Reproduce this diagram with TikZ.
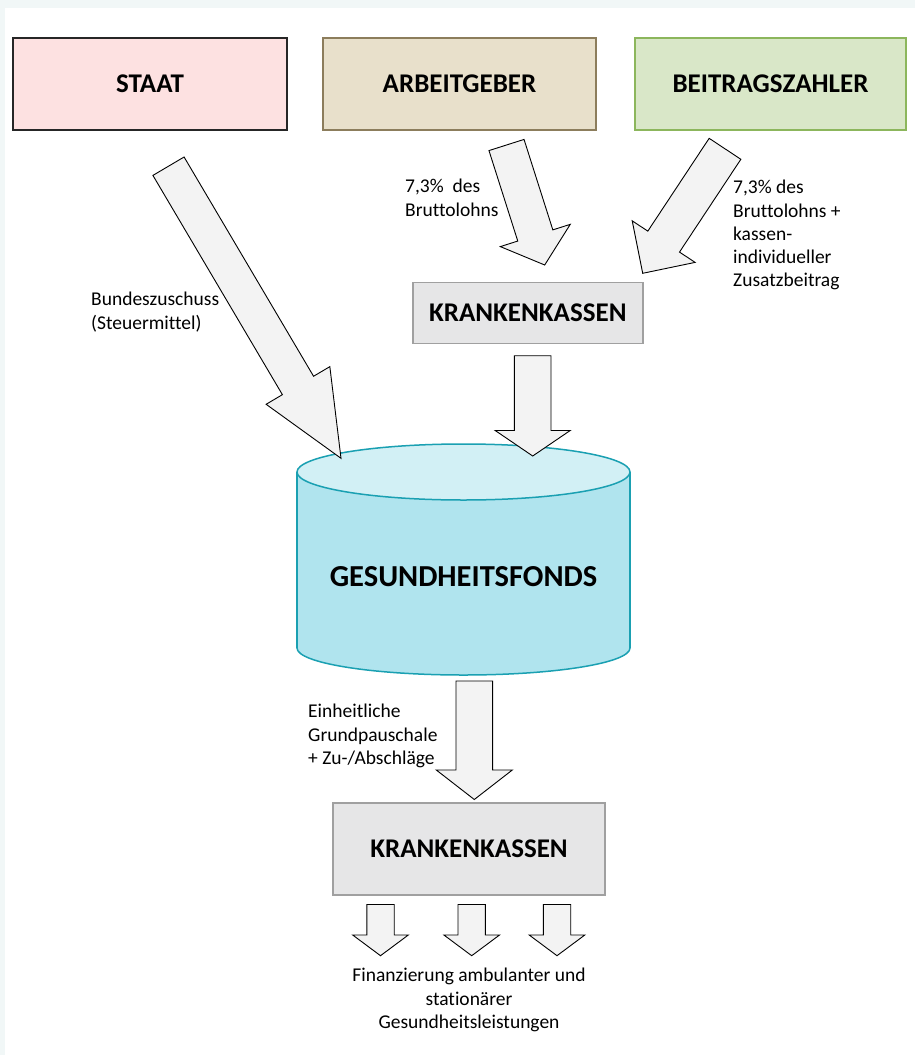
\documentclass[tikz,border=0pt]{standalone}
\usepackage{fontspec}
\setmainfont{Carlito}[Ligatures=NoCommon]
\usetikzlibrary{calc}

\definecolor{bandcol}{HTML}{F1F7F7}
\definecolor{staatfill}{HTML}{FDE1E1}
\definecolor{staatline}{HTML}{262626}
\definecolor{agfill}{HTML}{E8E0CB}
\definecolor{agline}{HTML}{8C7D5C}
\definecolor{bzfill}{HTML}{D9E7C8}
\definecolor{bzline}{HTML}{8CB65C}
\definecolor{kkfill}{HTML}{E6E6E7}
\definecolor{kkline}{HTML}{A0A0A0}
\definecolor{arrowfill}{HTML}{F3F3F3}
\definecolor{fondsbody}{HTML}{B0E4EE}
\definecolor{fondstop}{HTML}{D2F0F5}
\definecolor{fondsline}{HTML}{1AA0B2}

\tikzset{
  titlebox/.style={draw, line width=2pt, inner sep=0pt,
    font=\fontsize{27}{32}\selectfont\bfseries},
  kkbox/.style={titlebox, draw=kkline, fill=kkfill, line width=1.5pt},
  note/.style={font=\fontsize{19.5}{23.3}\selectfont, inner sep=0pt, align=left},
  fatarrow/.style={draw=black, fill=arrowfill, line width=0.9pt, line join=miter},
  fondsrim/.style={draw=fondsline, line width=1.5pt},
}

% block arrow: #1 tail, #2 tip, #3 half shaft width, #4 half head width, #5 head length
\newcommand\blockarrow[5]{%
  \coordinate (ba-base) at ($(#2)!#5!(#1)$);
  \draw[fatarrow]
    ($(#1)!#3!90:(#2)$) -- ($(ba-base)!#3!90:(#2)$) -- ($(ba-base)!#4!90:(#2)$)
    -- (#2)
    -- ($(ba-base)!#4!-90:(#2)$) -- ($(ba-base)!#3!-90:(#2)$) -- ($(#1)!#3!-90:(#2)$)
    -- cycle;
}

\begin{document}
\begin{tikzpicture}[x=1pt, y=-1pt]
  \useasboundingbox (0,0) rectangle (915,1055);
  \fill[bandcol] (0,0) rectangle (915,1055);
  \fill[white] (5,8) rectangle (915,1055);

  % payers
  \node[titlebox, draw=staatline, fill=staatfill, minimum width=274pt, minimum height=92pt]
    (staat) at (150,84) {STAAT};
  \node[titlebox, draw=agline, fill=agfill, minimum width=273pt, minimum height=92pt]
    (arbeit) at (459.5,84) {ARBEITGEBER};
  \node[titlebox, draw=bzline, fill=bzfill, minimum width=271pt, minimum height=92pt]
    (beitrag) at (770.5,84) {BEITRAGSZAHLER};

  % collecting health insurers
  \node[kkbox, minimum width=230pt, minimum height=61pt] (kkoben) at (527.8,313) {KRANKENKASSEN};

  % health fund cylinder
  \fill[fondsbody] (463.5,648) ellipse [x radius=166.5pt, y radius=27pt];
  \draw[fondsrim] (463.5,648) ellipse [x radius=166.5pt, y radius=27pt];
  \fill[fondsbody] (297,472) rectangle (630,648);
  \draw[fondsrim] (297,472) -- (297,648) (630,472) -- (630,648);
  \fill[fondstop] (463.5,472) ellipse [x radius=166.5pt, y radius=28pt];
  \draw[fondsrim] (463.5,472) ellipse [x radius=166.5pt, y radius=28pt];
  \node[font=\fontsize{30.5}{36}\selectfont\bfseries, inner sep=0pt] (fonds) at (463.5,577) {GESUNDHEITSFONDS};

  % distributing health insurers
  \node[kkbox, minimum width=272pt, minimum height=92pt] (kkunten) at (469,849) {KRANKENKASSEN};

  % arrow end points
  \coordinate (staat-out) at (168.5,166.2);
  \coordinate (fonds-in-staat) at (341,458.3);
  \coordinate (ag-out) at (506.5,145);
  \coordinate (kk-in-ag) at (544.7,265);
  \coordinate (bz-out) at (725,148.8);
  \coordinate (kk-in-bz) at (642.7,273.3);
  \coordinate (kk-out) at (532.7,355.7);
  \coordinate (fonds-in-kk) at (532.7,456);
  \coordinate (fonds-out) at (474.3,681);
  \coordinate (kku-in) at (474.3,799.5);
  \coordinate (leist-a0) at (380.5,904.5);
  \coordinate (leist-a1) at (380.5,955.7);
  \coordinate (leist-b0) at (471.7,904.5);
  \coordinate (leist-b1) at (471.7,955.7);
  \coordinate (leist-c0) at (557,904.5);
  \coordinate (leist-c1) at (557,955.7);

  \blockarrow{staat-out}{fonds-in-staat}{18.1pt}{37pt}{84.6pt}
  \blockarrow{ag-out}{kk-in-ag}{18.4pt}{36.7pt}{31pt}
  \blockarrow{bz-out}{kk-in-bz}{19pt}{37.7pt}{38pt}
  \blockarrow{kk-out}{fonds-in-kk}{18.3pt}{37.5pt}{25.5pt}
  \blockarrow{fonds-out}{kku-in}{18.3pt}{38pt}{29.5pt}
  \blockarrow{leist-a0}{leist-a1}{13.7pt}{27.8pt}{20.7pt}
  \blockarrow{leist-b0}{leist-b1}{13.7pt}{27.8pt}{20.7pt}
  \blockarrow{leist-c0}{leist-c1}{13.7pt}{27.8pt}{20.7pt}

  % flow labels
  \node[note, anchor=north west] (lbl-staat) at (91,292) {Bundeszuschuss\\(Steuermittel)};
  \node[note, anchor=north west] (lbl-ag) at (405,179) {7,3\%~ des\\Bruttolohns};
  \node[note, anchor=north west] (lbl-bz) at (733,180) {7,3\% des\\Bruttolohns +\\kassen-\\individueller\\Zusatzbeitrag};
  \node[note, anchor=north west] (lbl-fonds) at (308,704) {Einheitliche\\Grundpauschale\\+ Zu-/Abschläge};
  \node[note, align=center, anchor=north] (lbl-leist) at (469,968) {Finanzierung ambulanter und\\stationärer\\Gesundheitsleistungen};
\end{tikzpicture}
\end{document}
